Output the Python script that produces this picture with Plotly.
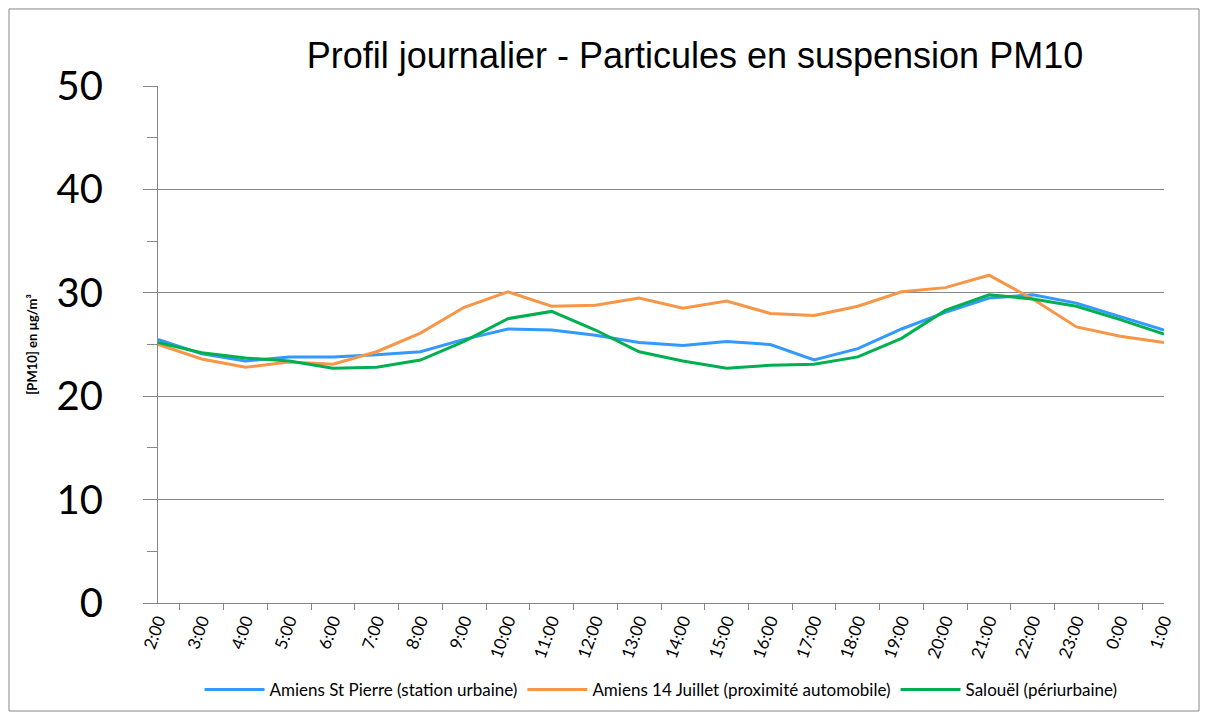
import plotly.graph_objects as go

hours = ["2:00", "3:00", "4:00", "5:00", "6:00", "7:00", "8:00", "9:00", "10:00", "11:00",
         "12:00", "13:00", "14:00", "15:00", "16:00", "17:00", "18:00", "19:00", "20:00",
         "21:00", "22:00", "23:00", "0:00", "1:00"]

st_pierre = [25.5, 24.1, 23.4, 23.8, 23.8, 24.0, 24.3, 25.5, 26.5, 26.4, 25.9, 25.2,
             24.9, 25.3, 25.0, 23.5, 24.6, 26.5, 28.1, 29.5, 29.8, 29.0, 27.7, 26.4]
juillet14 = [25.0, 23.6, 22.8, 23.3, 23.1, 24.3, 26.1, 28.6, 30.1, 28.7, 28.8, 29.5,
             28.5, 29.2, 28.0, 27.8, 28.7, 30.1, 30.5, 31.7, 29.4, 26.7, 25.8, 25.2]
salouel = [25.2, 24.2, 23.7, 23.4, 22.7, 22.8, 23.5, 25.3, 27.5, 28.2, 26.4, 24.3,
           23.4, 22.7, 23.0, 23.1, 23.8, 25.6, 28.3, 29.8, 29.4, 28.7, 27.4, 26.0]

names = ["Amiens St Pierre (station urbaine)",
         "Amiens 14 Juillet (proximité automobile)",
         "Salouël (périurbaine)"]
colors = ["#3399FF", "#F79646", "#00B050"]

fig = go.Figure()
for name, vals, col in zip(names, [st_pierre, juillet14, salouel], colors):
    fig.add_trace(go.Scatter(x=hours, y=vals, mode="lines", name=name,
                             line=dict(color=col, width=3)))

fig.update_layout(
    width=1200, height=712,
    margin=dict(l=150, r=44, t=78, b=117),
    paper_bgcolor="white", plot_bgcolor="white",
    title=dict(text="Profil journalier - Particules en suspension PM10",
               x=0.5725, xanchor="center", y=0.934, yanchor="middle",
               font=dict(family="Liberation Sans, Arial", size=36, color="black")),
    showlegend=True,
    legend=dict(orientation="h", x=0.5, xanchor="center", y=-0.168, yanchor="middle",
                font=dict(family="Lato, Open Sans", size=17, color="black"),
                itemwidth=60, tracegroupgap=0, bgcolor="rgba(0,0,0,0)"),
    shapes=[dict(type="rect", xref="paper", yref="paper",
                 x0=-0.1481, x1=1.0348, y0=-0.2089, y1=1.149,
                 line=dict(color="#868686", width=1), fillcolor="rgba(0,0,0,0)", layer="below")],
    annotations=[dict(text="<b>[PM10] en µg/m³</b>", xref="paper", yref="paper",
                      x=-0.126, y=0.5, xanchor="center", yanchor="middle",
                      textangle=-90, showarrow=False,
                      font=dict(family="Lato, Open Sans", size=13, color="black"))],
)

fig.update_xaxes(
    type="category", tickson="boundaries", ticks="outside", ticklen=6,
    tickcolor="#868686", showline=True, linecolor="#868686", linewidth=1,
    showgrid=False, tickangle=-70,
    tickfont=dict(family="Lato, Open Sans", size=17, color="black"),
)
fig.update_yaxes(
    range=[0, 50], dtick=10, ticks="outside", ticklen=14, tickcolor="#868686",
    showline=True, linecolor="#868686", linewidth=1,
    showgrid=True, gridcolor="#868686", gridwidth=1, zeroline=False,
    ticklabelstandoff=32,
    tickfont=dict(family="Lato, Open Sans", size=40, color="black"),
    minor=dict(dtick=5, ticks="outside", ticklen=10, tickcolor="#868686", showgrid=False),
)

fig.write_html("out.html")
